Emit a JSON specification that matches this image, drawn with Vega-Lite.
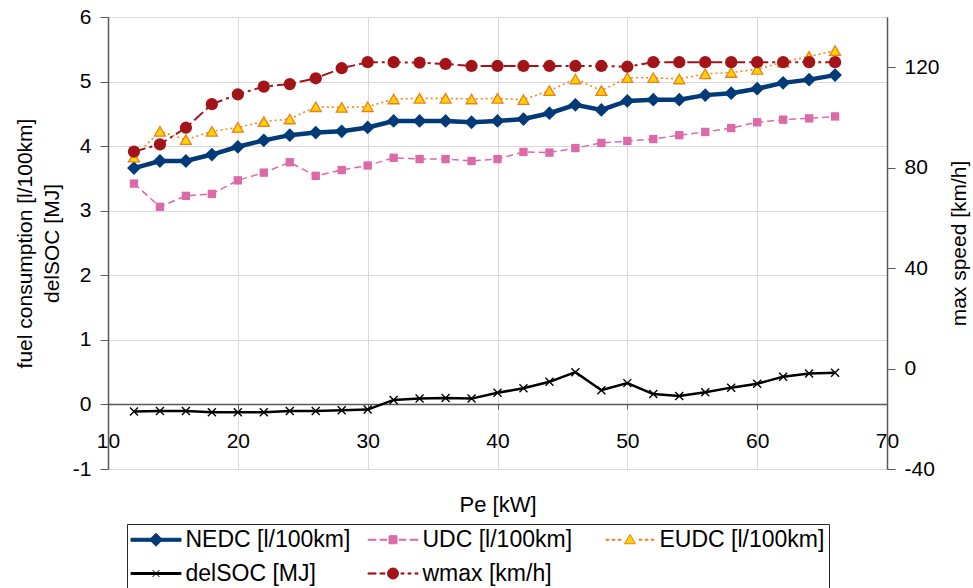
{
  "$schema": "https://vega.github.io/schema/vega-lite/v6.json",
  "autosize": {"type": "none"},
  "padding": {"left": 108, "top": 17, "right": 86, "bottom": 119},
  "width": 779,
  "height": 452,
  "background": "white",
  "config": {
    "font": "Liberation Sans",
    "view": {"stroke": "#8c8c8c"},
    "axis": {"labelFont": "Liberation Sans", "titleFont": "Liberation Sans", "labelFontSize": 21, "titleFontSize": 21, "labelColor": "black", "titleColor": "black", "titleFontWeight": "normal", "domainColor": "#595959", "tickColor": "#595959", "gridColor": "#d9d9d9", "labelOverlap": false, "labelFlush": false},
    "legend": {"symbolOpacity": 1}
  },
  "datasets": {
    "main": [
      {"Pe": 12, "NEDC": 3.66, "UDC": 3.42, "EUDC": 3.83, "delSOC": -0.11, "wmax": 86.4},
      {"Pe": 14, "NEDC": 3.77, "UDC": 3.06, "EUDC": 4.23, "delSOC": -0.10, "wmax": 89.3},
      {"Pe": 16, "NEDC": 3.77, "UDC": 3.23, "EUDC": 4.10, "delSOC": -0.10, "wmax": 95.9},
      {"Pe": 18, "NEDC": 3.87, "UDC": 3.26, "EUDC": 4.23, "delSOC": -0.12, "wmax": 105.3},
      {"Pe": 20, "NEDC": 3.99, "UDC": 3.47, "EUDC": 4.29, "delSOC": -0.12, "wmax": 109.2},
      {"Pe": 22, "NEDC": 4.09, "UDC": 3.59, "EUDC": 4.38, "delSOC": -0.12, "wmax": 112.3},
      {"Pe": 24, "NEDC": 4.17, "UDC": 3.75, "EUDC": 4.42, "delSOC": -0.10, "wmax": 113.3},
      {"Pe": 26, "NEDC": 4.21, "UDC": 3.54, "EUDC": 4.61, "delSOC": -0.10, "wmax": 115.6},
      {"Pe": 28, "NEDC": 4.23, "UDC": 3.63, "EUDC": 4.60, "delSOC": -0.09, "wmax": 119.6},
      {"Pe": 30, "NEDC": 4.29, "UDC": 3.70, "EUDC": 4.61, "delSOC": -0.08, "wmax": 122.0},
      {"Pe": 32, "NEDC": 4.39, "UDC": 3.82, "EUDC": 4.73, "delSOC": 0.07, "wmax": 122.0},
      {"Pe": 34, "NEDC": 4.39, "UDC": 3.80, "EUDC": 4.74, "delSOC": 0.09, "wmax": 121.8},
      {"Pe": 36, "NEDC": 4.39, "UDC": 3.80, "EUDC": 4.74, "delSOC": 0.10, "wmax": 121.3},
      {"Pe": 38, "NEDC": 4.37, "UDC": 3.77, "EUDC": 4.73, "delSOC": 0.09, "wmax": 120.5},
      {"Pe": 40, "NEDC": 4.39, "UDC": 3.80, "EUDC": 4.74, "delSOC": 0.18, "wmax": 120.5},
      {"Pe": 42, "NEDC": 4.42, "UDC": 3.91, "EUDC": 4.72, "delSOC": 0.25, "wmax": 120.5},
      {"Pe": 44, "NEDC": 4.51, "UDC": 3.90, "EUDC": 4.86, "delSOC": 0.35, "wmax": 120.5},
      {"Pe": 46, "NEDC": 4.64, "UDC": 3.97, "EUDC": 5.04, "delSOC": 0.50, "wmax": 120.5},
      {"Pe": 48, "NEDC": 4.56, "UDC": 4.05, "EUDC": 4.86, "delSOC": 0.22, "wmax": 120.5},
      {"Pe": 50, "NEDC": 4.70, "UDC": 4.08, "EUDC": 5.06, "delSOC": 0.33, "wmax": 120.2},
      {"Pe": 52, "NEDC": 4.72, "UDC": 4.11, "EUDC": 5.06, "delSOC": 0.16, "wmax": 122.0},
      {"Pe": 54, "NEDC": 4.72, "UDC": 4.17, "EUDC": 5.04, "delSOC": 0.13, "wmax": 122.0},
      {"Pe": 56, "NEDC": 4.79, "UDC": 4.22, "EUDC": 5.12, "delSOC": 0.19, "wmax": 122.0},
      {"Pe": 58, "NEDC": 4.82, "UDC": 4.28, "EUDC": 5.14, "delSOC": 0.26, "wmax": 122.0},
      {"Pe": 60, "NEDC": 4.89, "UDC": 4.37, "EUDC": 5.19, "delSOC": 0.32, "wmax": 122.0},
      {"Pe": 62, "NEDC": 4.98, "UDC": 4.41, "EUDC": 5.30, "delSOC": 0.43, "wmax": 122.0},
      {"Pe": 64, "NEDC": 5.03, "UDC": 4.43, "EUDC": 5.39, "delSOC": 0.48, "wmax": 122.0},
      {"Pe": 66, "NEDC": 5.10, "UDC": 4.46, "EUDC": 5.48, "delSOC": 0.49, "wmax": 122.0}
    ],
    "legend": [
      {"series": "NEDC [l/100km]"},
      {"series": "UDC [l/100km]"},
      {"series": "EUDC [l/100km]"},
      {"series": "delSOC [MJ]"},
      {"series": "wmax [km/h]"}
    ]
  },
  "layer": [
    {
      "layer": [
        {
          "data": {"name": "main"},
          "mark": {"type": "line", "stroke": "#003a78", "strokeWidth": 4.5},
          "encoding": {
            "x": {"field": "Pe", "type": "quantitative", "scale": {"domain": [10, 70], "nice": false}, "axis": {"orient": "bottom", "values": [10, 20, 30, 40, 50, 60, 70], "grid": true, "labels": false, "ticks": false, "domain": false, "title": null}},
            "y": {"field": "NEDC", "type": "quantitative", "scale": {"domain": [-1, 6], "nice": false, "zero": false}, "title": ["fuel consumption [l/100km]", "delSOC [MJ]"], "axis": {"orient": "left", "values": [-1, 0, 1, 2, 3, 4, 5, 6], "labelExpr": "'' + datum.value", "grid": true, "domainWidth": 1.5, "tickSize": 8, "labelPadding": 9, "titlePadding": 10, "titleLineHeight": 27}}
          }
        },
        {
          "data": {"name": "main"},
          "mark": {"type": "point", "shape": "diamond", "size": 190, "filled": true, "fill": "#003a78", "opacity": 1},
          "encoding": {
            "x": {"field": "Pe", "type": "quantitative"},
            "y": {"field": "NEDC", "type": "quantitative", "title": ["fuel consumption [l/100km]", "delSOC [MJ]"]}
          }
        },
        {
          "data": {"name": "main"},
          "mark": {"type": "line", "stroke": "#dc6aa8", "strokeWidth": 1.5, "strokeDash": [7, 4]},
          "encoding": {
            "x": {"field": "Pe", "type": "quantitative"},
            "y": {"field": "UDC", "type": "quantitative", "title": ["fuel consumption [l/100km]", "delSOC [MJ]"]}
          }
        },
        {
          "data": {"name": "main"},
          "mark": {"type": "point", "shape": "square", "size": 70, "filled": true, "fill": "#dc6aa8", "opacity": 1},
          "encoding": {
            "x": {"field": "Pe", "type": "quantitative"},
            "y": {"field": "UDC", "type": "quantitative", "title": ["fuel consumption [l/100km]", "delSOC [MJ]"]}
          }
        },
        {
          "data": {"name": "main"},
          "mark": {"type": "line", "stroke": "#f5841f", "strokeWidth": 1.6, "strokeDash": [2, 3]},
          "encoding": {
            "x": {"field": "Pe", "type": "quantitative"},
            "y": {"field": "EUDC", "type": "quantitative", "title": ["fuel consumption [l/100km]", "delSOC [MJ]"]}
          }
        },
        {
          "data": {"name": "main"},
          "mark": {"type": "point", "shape": "triangle-up", "size": 120, "filled": true, "fill": "#ffd500", "stroke": "#f07c1e", "strokeWidth": 1.3, "opacity": 1},
          "encoding": {
            "x": {"field": "Pe", "type": "quantitative"},
            "y": {"field": "EUDC", "type": "quantitative", "title": ["fuel consumption [l/100km]", "delSOC [MJ]"]}
          }
        },
        {
          "data": {"name": "main"},
          "mark": {"type": "line", "stroke": "#000000", "strokeWidth": 2.5},
          "encoding": {
            "x": {"field": "Pe", "type": "quantitative"},
            "y": {"field": "delSOC", "type": "quantitative", "title": ["fuel consumption [l/100km]", "delSOC [MJ]"]}
          }
        },
        {
          "data": {"name": "main"},
          "mark": {"type": "point", "shape": "M-1,-1L1,1M1,-1L-1,1", "size": 64, "filled": false, "stroke": "#000000", "strokeWidth": 1.4, "opacity": 1},
          "encoding": {
            "x": {"field": "Pe", "type": "quantitative"},
            "y": {"field": "delSOC", "type": "quantitative", "title": ["fuel consumption [l/100km]", "delSOC [MJ]"]}
          }
        },
        {
          "data": {"name": "legend"},
          "mark": {"type": "point", "size": 0, "filled": true},
          "encoding": {
            "fill": {"field": "series", "type": "nominal",
              "scale": {"domain": ["NEDC [l/100km]", "UDC [l/100km]", "EUDC [l/100km]", "delSOC [MJ]", "wmax [km/h]"], "range": ["#003a78", "#dc6aa8", "#ffd500", "#000000", "#a31419"]},
              "legend": {"title": null, "orient": "none", "direction": "horizontal", "legendX": 19, "legendY": 507, "columns": 3, "gridAlign": "all", "columnPadding": 15, "rowPadding": 10, "symbolSize": 400, "symbolStrokeWidth": 1, "symbolOpacity": 1, "symbolOffset": 13.5, "labelOffset": 18, "labelFontSize": 23, "labelFont": "Liberation Sans", "labelColor": "black", "labelLimit": 400, "strokeColor": "#262626", "fillColor": "white", "padding": 4}},
            "stroke": {"field": "series", "type": "nominal",
              "scale": {"domain": ["NEDC [l/100km]", "UDC [l/100km]", "EUDC [l/100km]", "delSOC [MJ]", "wmax [km/h]"], "range": ["#003a78", "#dc6aa8", "#f07c1e", "#000000", "#a31419"]},
              "legend": {"title": null, "orient": "none", "direction": "horizontal", "legendX": 19, "legendY": 507, "columns": 3, "gridAlign": "all", "columnPadding": 15, "rowPadding": 10, "symbolSize": 400, "symbolStrokeWidth": 1, "symbolOpacity": 1, "symbolOffset": 13.5, "labelOffset": 18, "labelFontSize": 23, "labelFont": "Liberation Sans", "labelColor": "black", "labelLimit": 400, "strokeColor": "#262626", "fillColor": "white", "padding": 4}},
            "shape": {"field": "series", "type": "nominal",
              "scale": {"domain": ["NEDC [l/100km]", "UDC [l/100km]", "EUDC [l/100km]", "delSOC [MJ]", "wmax [km/h]"], "range": [
                "M-2.5,-0.15H2.5V0.15H-2.5Z M0,-0.65L0.65,0L0,0.65L-0.65,0Z",
                "M-2.5,-0.05H-1.7V0.05H-2.5Z M-1.3,-0.05H-0.6V0.05H-1.3Z M0.6,-0.05H1.3V0.05H0.6Z M1.7,-0.05H2.5V0.05H1.7Z M-0.4,-0.4H0.4V0.4H-0.4Z",
                "M-2.4,-0.05H-2.1V0.05H-2.4Z M-1.8,-0.05H-1.5V0.05H-1.8Z M-1.2,-0.05H-0.9V0.05H-1.2Z M0.9,-0.05H1.2V0.05H0.9Z M1.5,-0.05H1.8V0.05H1.5Z M2.1,-0.05H2.4V0.05H2.1Z M0,-0.55L0.55,0.4L-0.55,0.4Z",
                "M-2.5,-0.1H2.5V0.1H-2.5Z M-0.35,-0.35L0.35,0.35 M0.35,-0.35L-0.35,0.35",
                "M-2.5,-0.06H-1.7V0.06H-2.5Z M-1.3,-0.06H-0.8V0.06H-1.3Z M0.8,-0.06H1.1V0.06H0.8Z M1.5,-0.06H1.8V0.06H1.5Z M2.2,-0.06H2.5V0.06H2.2Z M-0.55,0A0.55,0.55 0 1,1 0.55,0A0.55,0.55 0 1,1 -0.55,0Z"
              ]},
              "legend": {"title": null, "orient": "none", "direction": "horizontal", "legendX": 19, "legendY": 507, "columns": 3, "gridAlign": "all", "columnPadding": 15, "rowPadding": 10, "symbolSize": 400, "symbolStrokeWidth": 1, "symbolOpacity": 1, "symbolOffset": 13.5, "labelOffset": 18, "labelFontSize": 23, "labelFont": "Liberation Sans", "labelColor": "black", "labelLimit": 400, "strokeColor": "#262626", "fillColor": "white", "padding": 4}}
          }
        }
      ]
    },
    {
      "layer": [
        {
          "data": {"name": "main"},
          "mark": {"type": "line", "stroke": "#a31419", "strokeWidth": 2, "strokeDash": [12, 4, 3, 4]},
          "encoding": {
            "x": {"field": "Pe", "type": "quantitative", "scale": {"domain": [10, 70], "nice": false}, "axis": {"orient": "bottom", "offset": -65, "values": [10, 20, 30, 40, 50, 60, 70], "grid": false, "domainWidth": 1.5, "tickSize": 5, "labelPadding": 21, "title": "Pe [kW]", "titleFontSize": 22, "titlePadding": 43}},
            "y": {"field": "wmax", "type": "quantitative", "scale": {"domain": [-40, 140], "nice": false, "zero": false}, "title": "max speed [km/h]", "axis": {"orient": "right", "values": [-40, 0, 40, 80, 120], "labelExpr": "'' + datum.value", "grid": false, "domainWidth": 1.5, "tickSize": 8, "labelPadding": 9, "titleAngle": -90, "titleBaseline": "top", "titlePadding": 9}}
          }
        },
        {
          "data": {"name": "main"},
          "mark": {"type": "point", "shape": "circle", "size": 150, "filled": true, "fill": "#a31419", "opacity": 1},
          "encoding": {
            "x": {"field": "Pe", "type": "quantitative"},
            "y": {"field": "wmax", "type": "quantitative", "title": "max speed [km/h]"}
          }
        }
      ]
    }
  ],
  "resolve": {"scale": {"y": "independent"}, "axis": {"x": "independent"}}
}
